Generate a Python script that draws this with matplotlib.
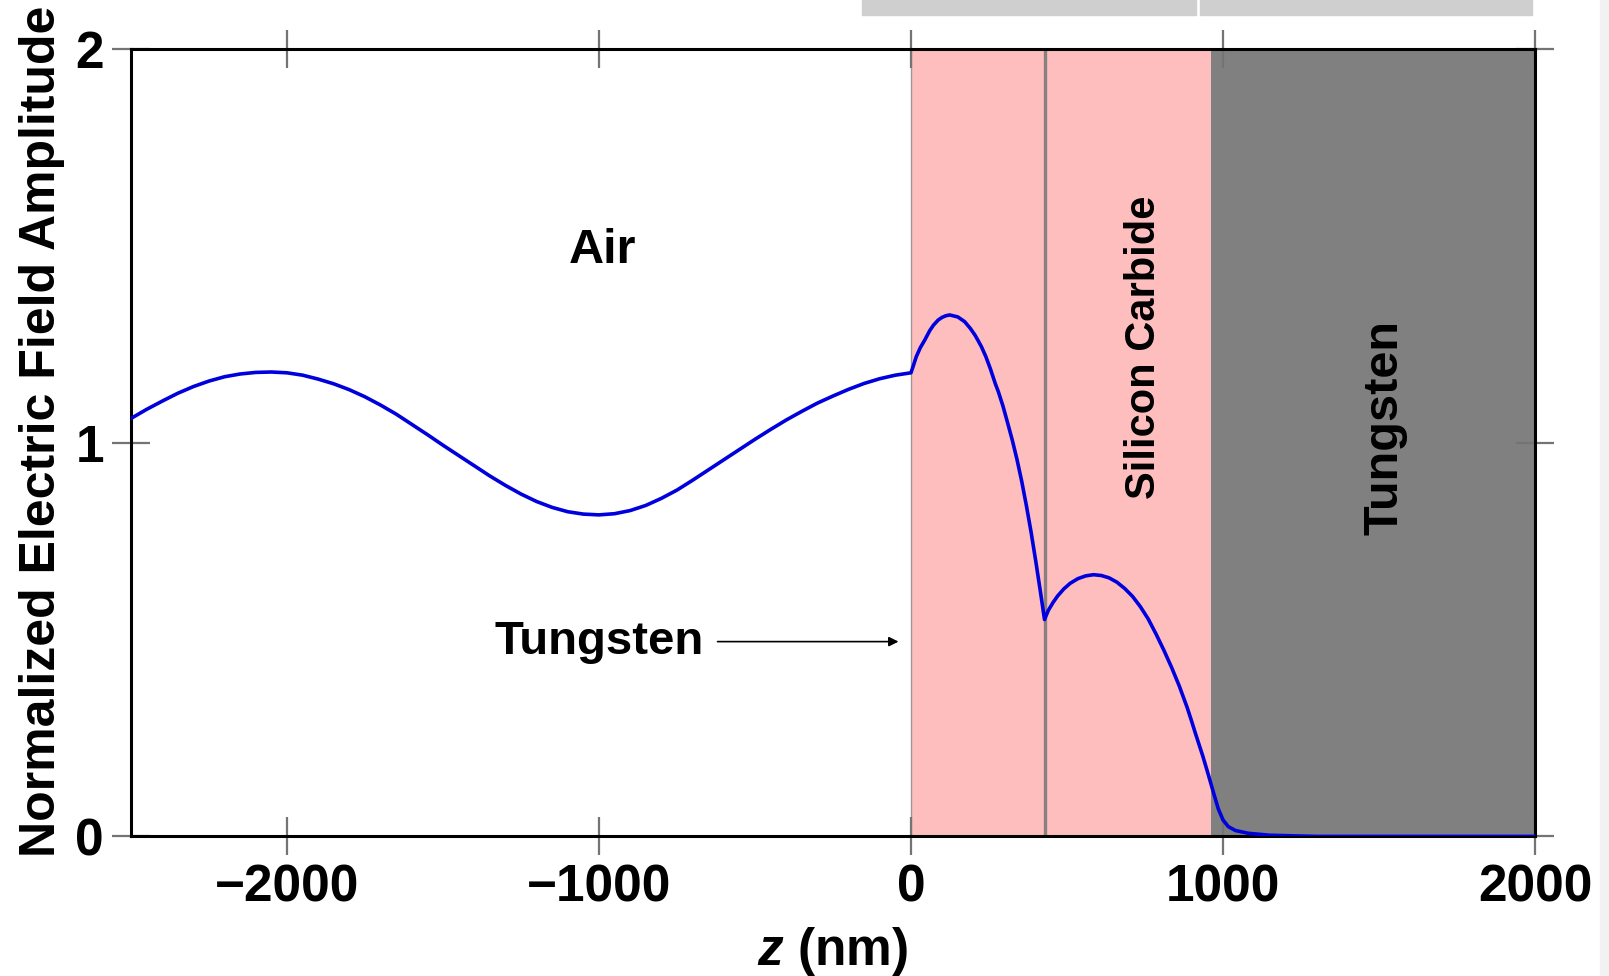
import numpy as np
import matplotlib
matplotlib.use('Agg')
from matplotlib import pyplot as plt
from matplotlib.patches import Rectangle

plt.rcParams['font.family'] = ['Liberation Sans', 'DejaVu Sans']
plt.rcParams['font.weight'] = 'bold'
plt.rcParams['mathtext.fontset'] = 'custom'
plt.rcParams['mathtext.it'] = 'Liberation Sans:bold:italic'
plt.rcParams['mathtext.rm'] = 'Liberation Sans:bold'

# field amplitude, air side (z < 0)
z_air = [-2500, -2450, -2400, -2350, -2300, -2250, -2200, -2150, -2100, -2050,
         -2000, -1950, -1900, -1850, -1800, -1750, -1700, -1650, -1600, -1550,
         -1500, -1450, -1400, -1350, -1300, -1250, -1200, -1150, -1100, -1050,
         -1000, -950, -900, -850, -800, -750, -700, -650, -600, -550,
         -500, -450, -400, -350, -300, -250, -200, -150, -100, -50, 0]
E_air = [1.062, 1.085, 1.106, 1.126, 1.143, 1.157, 1.168, 1.175, 1.179, 1.180,
         1.178, 1.172, 1.162, 1.150, 1.135, 1.117, 1.096, 1.073, 1.047, 1.021,
         0.994, 0.968, 0.942, 0.916, 0.892, 0.870, 0.851, 0.836, 0.825, 0.819,
         0.817, 0.820, 0.828, 0.841, 0.859, 0.880, 0.905, 0.931, 0.957, 0.983,
         1.009, 1.034, 1.058, 1.080, 1.101, 1.119, 1.136, 1.151, 1.163, 1.172, 1.178]

# inside the stack (z > 0): thin tungsten film, silicon carbide, tungsten
z_stack = [0, 8, 17, 30, 44, 60, 72, 87, 100, 112, 124, 150, 172, 190, 205, 215, 226,
           240, 255, 270, 280, 295, 310, 325, 340, 355, 370, 385, 400, 415, 428,
           440, 455, 470, 490, 510, 535, 560, 585, 610, 635, 660, 685, 710, 735,
           760, 785, 810, 835, 860, 885, 899, 910, 935, 953, 970, 985, 1000, 1017,
           1040, 1081, 1150, 1300, 2000]
E_stack = [1.178, 1.197, 1.219, 1.242, 1.261, 1.285, 1.299, 1.312, 1.319, 1.323, 1.325,
           1.320, 1.308, 1.291, 1.274, 1.260, 1.244,
           1.219, 1.187, 1.151, 1.130, 1.093, 1.050, 1.006, 0.957, 0.902, 0.840,
           0.773, 0.699, 0.621, 0.551,
           0.574, 0.594, 0.611, 0.629, 0.643, 0.655, 0.662, 0.665, 0.663, 0.657,
           0.646, 0.630, 0.610, 0.584, 0.553, 0.515, 0.474, 0.430, 0.382, 0.328,
           0.294, 0.266, 0.205, 0.157, 0.110, 0.070, 0.042, 0.025, 0.015, 0.008,
           0.003, 0.0, 0.0]

# layer boundaries (nm)
w_film_edge = 428
sic_end = 961
z_max = 2000

xticks = [-2000, -1000, 0, 1000, 2000]
yticks = [0, 1, 2]

fig = plt.figure(figsize=(16.09, 9.76), dpi=100)
ax = fig.add_axes([0.0814, 0.143, 0.8726, 0.8065])

# layers
ax.axvspan(0, sic_end, color='#FEBEBE', lw=0, zorder=0)
ax.axvspan(sic_end, z_max, color='#808080', lw=0, zorder=0)
ax.axvline(0, color='#a09898', lw=1.0, zorder=1)
ax.axvline(w_film_edge, color='#888080', lw=2.4, zorder=1)

ax.plot(z_air + z_stack, E_air + E_stack, color='#0000DD', lw=2.6, zorder=3,
        solid_joinstyle='round')

ax.set_xlim(-2500, 2000)
ax.set_ylim(0, 2)
ax.set_xticks(xticks)
ax.set_yticks(yticks)

ax.tick_params(direction='inout', length=27, width=1.6, color='#747474',
               top=True, right=True, labelsize=37, pad=6)
for lab in ax.get_xticklabels() + ax.get_yticklabels():
    lab.set_fontweight('bold')
for sp in ax.spines.values():
    sp.set_linewidth(2.2)
    sp.set_color('black')

ax.set_ylabel('Normalized Electric Field Amplitude', fontsize=36, fontweight='bold')
ax.yaxis.set_label_coords(-0.047, 0.515)
ax.set_xlabel(r'$z$ (nm)', fontsize=37, fontweight='bold')
ax.xaxis.set_label_coords(0.5, -0.112)

# labels for the layers
ax.text(-990, 1.49, 'Air', fontsize=35, fontweight='bold', ha='center', va='center')
ax.text(747, 1.244, 'Silicon Carbide', fontsize=30, fontweight='bold',
        rotation=90, ha='center', va='center')
ax.text(1520, 1.04, 'Tungsten', fontsize=35, fontweight='bold',
        rotation=90, ha='center', va='center')
ax.text(-1000, 0.495, 'Tungsten', fontsize=34, fontweight='bold', ha='center', va='center')
ax.annotate('', xy=(-40, 0.495), xytext=(-620, 0.495),
            arrowprops=dict(arrowstyle='-|>', color='black', lw=1.2, mutation_scale=14,
                            shrinkA=0, shrinkB=0))

# bits of the page around the screenshot
fig.patches.append(Rectangle((862 / 1609, 1 - 14.5 / 976), 334 / 1609, 14.5 / 976,
                             transform=fig.transFigure, color='#CFCFCF', zorder=0))
fig.patches.append(Rectangle((1200 / 1609, 1 - 14.5 / 976), 332 / 1609, 14.5 / 976,
                             transform=fig.transFigure, color='#CFCFCF', zorder=0))
fig.patches.append(Rectangle((1600 / 1609, 0), 9 / 1609, 1,
                             transform=fig.transFigure, color='#F2F2F2', zorder=0))

fig.savefig('out.png', dpi=100)
